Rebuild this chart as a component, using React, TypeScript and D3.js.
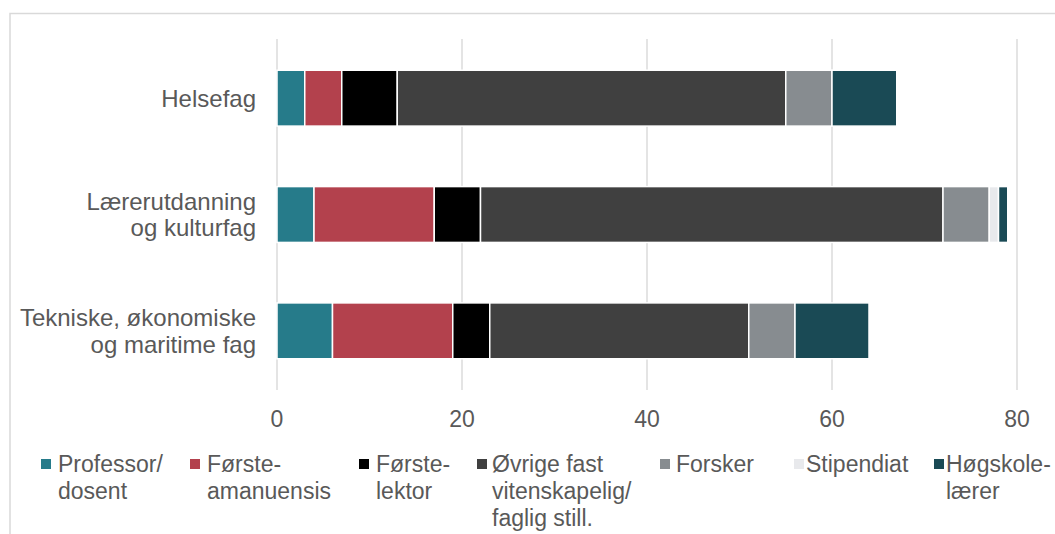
import React from "react";
import * as d3 from "d3";

const categories = ["Helsefag", "Lærerutdanning og kulturfag", "Tekniske, økonomiske og maritime fag"];
const categoryLines = [["Helsefag"], ["Lærerutdanning", "og kulturfag"], ["Tekniske, økonomiske", "og maritime fag"]];
const seriesNames = ["Professor/dosent", "Førsteamanuensis", "Førstelektor", "Øvrige fast vitenskapelig/faglig still.", "Forsker", "Stipendiat", "Høgskolelærer"];
const seriesLegendLines = [
  ["Professor/", "dosent"],
  ["Første-", "amanuensis"],
  ["Første-", "lektor"],
  ["Øvrige fast", "vitenskapelig/", "faglig still."],
  ["Forsker"],
  ["Stipendiat"],
  ["Høgskole-", "lærer"],
];
const seriesColors = ["#267B8A", "#B3414D", "#000000", "#404040", "#878C90", "#E8E9EC", "#1A4A55"];
// values per series, in category order
const professor = [3, 4, 6];
const forsteamanuensis = [4, 13, 13];
const forstelektor = [6, 5, 4];
const ovrige = [42, 50, 28];
const forsker = [5, 5, 5];
const stipendiat = [0, 1, 0];
const hogskolelarer = [7, 1, 8];
const seriesValues = [professor, forsteamanuensis, forstelektor, ovrige, forsker, stipendiat, hogskolelarer];
const xTicks = [0, 20, 40, 60, 80];

const W = 1055;
const H = 534;
const FONT = "'Liberation Sans', Arial, sans-serif";
const TEXT = "#595959";
const FS = 23;

const legendX = [[41, 58], [190, 207], [359, 376], [477, 492], [660, 676], [794, 806], [934, 946]];

export default function App() {
  const x = d3.scaleLinear().domain([0, 80]).range([277, 1017]);
  const y = d3.scaleBand<string>().domain(categories).range([40, 389]).paddingInner(0.52).paddingOuter(0.26);

  const rows = categories.map((c, ci) => {
    let acc = 0;
    return seriesValues.map((vals, si) => {
      const v = vals[ci];
      const seg = { c, si, x0: acc, x1: acc + v };
      acc += v;
      return seg;
    });
  });

  return (
    <div style={{ position: "absolute", left: 0, top: 0 }}>
      <svg width={W} height={H} style={{ display: "block" }}>
        <rect x={0} y={0} width={W} height={H} fill="#fff" />
        <rect x={10} y={13.5} width={W} height={H} fill="none" stroke="#D9D9D9" strokeWidth={1.5} />
        {xTicks.map((t) => (
          <g key={t}>
            <line x1={x(t)} x2={x(t)} y1={39} y2={390} stroke="#D9D9D9" strokeWidth={1.4} />
            <text x={x(t)} y={427} textAnchor="middle" fontFamily={FONT} fontSize={FS} fill={TEXT}>
              {t}
            </text>
          </g>
        ))}
        {rows.map((segs, ci) =>
          segs
            .filter((s) => s.x1 > s.x0)
            .map((s) => (
              <rect
                key={ci + "-" + s.si}
                x={x(s.x0)}
                y={y(s.c)!}
                width={x(s.x1) - x(s.x0)}
                height={y.bandwidth()}
                fill={seriesColors[s.si]}
                stroke="#fff"
                strokeWidth={1.5}
              />
            ))
        )}
        {categories.map((c, ci) => {
          const lines = categoryLines[ci];
          const cy = y(c)! + y.bandwidth() / 2;
          const lh = 26.5;
          const first = cy + 8.5 - ((lines.length - 1) * lh) / 2;
          return (
            <text key={c} textAnchor="end" fontFamily={FONT} fontSize={24} fill={TEXT}>
              {lines.map((l, li) => (
                <tspan key={li} x={256} y={first + li * lh}>
                  {l}
                </tspan>
              ))}
            </text>
          );
        })}
        {seriesNames.map((n, si) => (
          <g key={n}>
            <rect x={legendX[si][0]} y={459} width={10} height={10} fill={seriesColors[si]} />
            <text fontFamily={FONT} fontSize={FS} fill={TEXT}>
              {seriesLegendLines[si].map((l, li) => (
                <tspan key={li} x={legendX[si][1]} y={472 + li * 27}>
                  {l}
                </tspan>
              ))}
            </text>
          </g>
        ))}
      </svg>
    </div>
  );
}
